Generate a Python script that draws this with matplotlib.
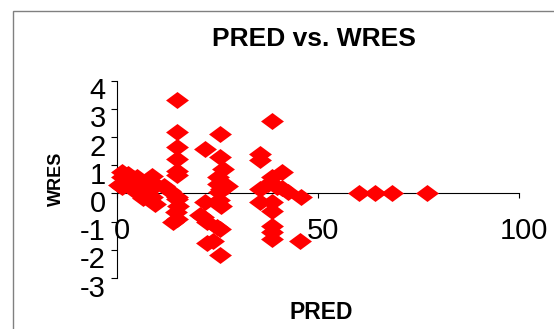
import matplotlib
matplotlib.use("Agg")
import matplotlib.pyplot as plt
from matplotlib.path import Path
from matplotlib.patches import Rectangle
from matplotlib.transforms import ScaledTranslation

plt.rcParams['font.family'] = ['Liberation Sans', 'DejaVu Sans']

# ── Data ──────────────────────────────────────────────────────────────────────
pred = [
    # left cluster
    1.3, 1.4, 1.4, 2.6, 3.3, 4.0, 5.0, 4.6, 5.6, 6.6, 6.4, 8.7, 8.0, 9.5, 8.9, 9.8, 2.8, 0.6,
    # column near 15
    11.8, 13.2, 14.9, 14.9, 14.9, 14.9, 14.9, 14.9, 14.9, 15.2, 14.7, 14.1, 14.9, 15.0,
    # columns near 22-27
    21.9, 21.9, 21.5, 20.7, 22.4, 22.4, 24.0, 25.7, 25.7, 26.5, 25.2, 27.3, 25.2, 25.4,
    25.4, 24.9, 25.7, 25.7, 26.0, 25.8,
    # columns near 36-46
    38.5, 35.6, 35.6, 41.0, 38.5, 37.7, 35.6, 39.7, 41.0, 42.6, 45.9, 35.6, 38.5, 38.5,
    38.5, 38.5, 38.5, 45.5,
    # right
    60.1, 64.2, 68.4, 77.0,
]
wres = [
    0.77, 0.60, 0.22, 0.45, 0.25, 0.55, 0.60, 0.10, 0.00, -0.15, 0.35, 0.62, 0.20, -0.38, -0.12, 0.30, 0.70, 0.30,
    0.28, 0.08, 3.30, 2.17, 1.64, 1.23, 0.81, 0.65, -0.13, -0.43, -0.67, -1.02, -0.90, -0.20,
    1.58, -0.31, -0.84, -0.78, -1.02, -1.76, -1.67, 2.11, 1.28, 0.87, 0.57, 0.28, 0.34, 0.04,
    -0.25, -1.20, -1.26, -2.18, 0.15, -0.45,
    2.56, 1.40, 1.17, 0.75, 0.57, 0.34, 0.16, 0.22, 0.20, 0.04, -0.13, -0.31, -0.31, -0.61,
    -1.14, -1.38, -1.61, -1.67,
    0.0, 0.0, 0.0, 0.0,
]

x_ticks = [0, 50, 100]
y_ticks = [-3, -2, -1, 0, 1, 2, 3, 4]

W, H = 554, 329
fig = plt.figure(figsize=(W / 100, H / 100), dpi=100, facecolor="white")

# outer chart-area border (cut off at right / bottom)
fig.add_artist(Rectangle((13 / W, -0.2), 2.0, 1.2 - 10.7 / H,
                         transform=fig.transFigure, facecolor="none",
                         edgecolor="#808080", linewidth=1.0))

ax = fig.add_axes([116.6 / W, 1 - 278 / H, 402.8 / W, 197.3 / H])
ax.set_facecolor("none")

# wide diamond marker
diamond = Path([(-1, 0), (0, 0.74), (1, 0), (0, -0.74), (-1, 0)],
               [Path.MOVETO, Path.LINETO, Path.LINETO, Path.LINETO, Path.CLOSEPOLY])
ax.scatter(pred, wres, marker=diamond, s=16.5 ** 2, color="#ff0000",
           linewidths=0, zorder=5, clip_on=False)

ax.set_xlim(0, 100)
ax.set_ylim(-3, 4)

for side in ["top", "right"]:
    ax.spines[side].set_visible(False)
ax.spines["bottom"].set_position(("data", 0))
for side in ["left", "bottom"]:
    ax.spines[side].set_color("black")
    ax.spines[side].set_linewidth(0.8)

ax.set_xticks(x_ticks)
ax.set_yticks(y_ticks)
ax.set_xticklabels([str(v) for v in x_ticks])
ax.set_yticklabels([str(v) for v in y_ticks])
ax.tick_params(axis="x", direction="out", length=3.4, width=0.8, pad=13.5,
               labelsize=21, colors="black")
ax.tick_params(axis="y", direction="out", length=4.3, width=0.8, pad=3.5,
               labelsize=21, colors="black")

# Excel places the y labels below their ticks, x labels a bit to the right
y_shift = ScaledTranslation(0, -0.186, fig.dpi_scale_trans)
for lbl in ax.get_yticklabels():
    lbl.set_verticalalignment("baseline")
    lbl.set_transform(lbl.get_transform() + y_shift)
x_shift = ScaledTranslation(0.05, 0, fig.dpi_scale_trans)
for lbl in ax.get_xticklabels():
    lbl.set_transform(lbl.get_transform() + x_shift)

# texts
fig.text(313.6 / W, 1 - 45.7 / H, "PRED vs. WRES", ha="center", va="baseline",
         fontsize=19, fontweight="bold")
fig.text(321 / W, 1 - 319.3 / H, "PRED", ha="center", va="baseline",
         fontsize=16.5, fontweight="bold")
fig.text(56 / W, 1 - 179 / H, "WRES", ha="center", va="center", rotation=90,
         fontsize=13, fontweight="bold",
         family=["Liberation Sans Narrow", "Liberation Sans"])

fig.savefig("out.png", dpi=100, facecolor="white")
